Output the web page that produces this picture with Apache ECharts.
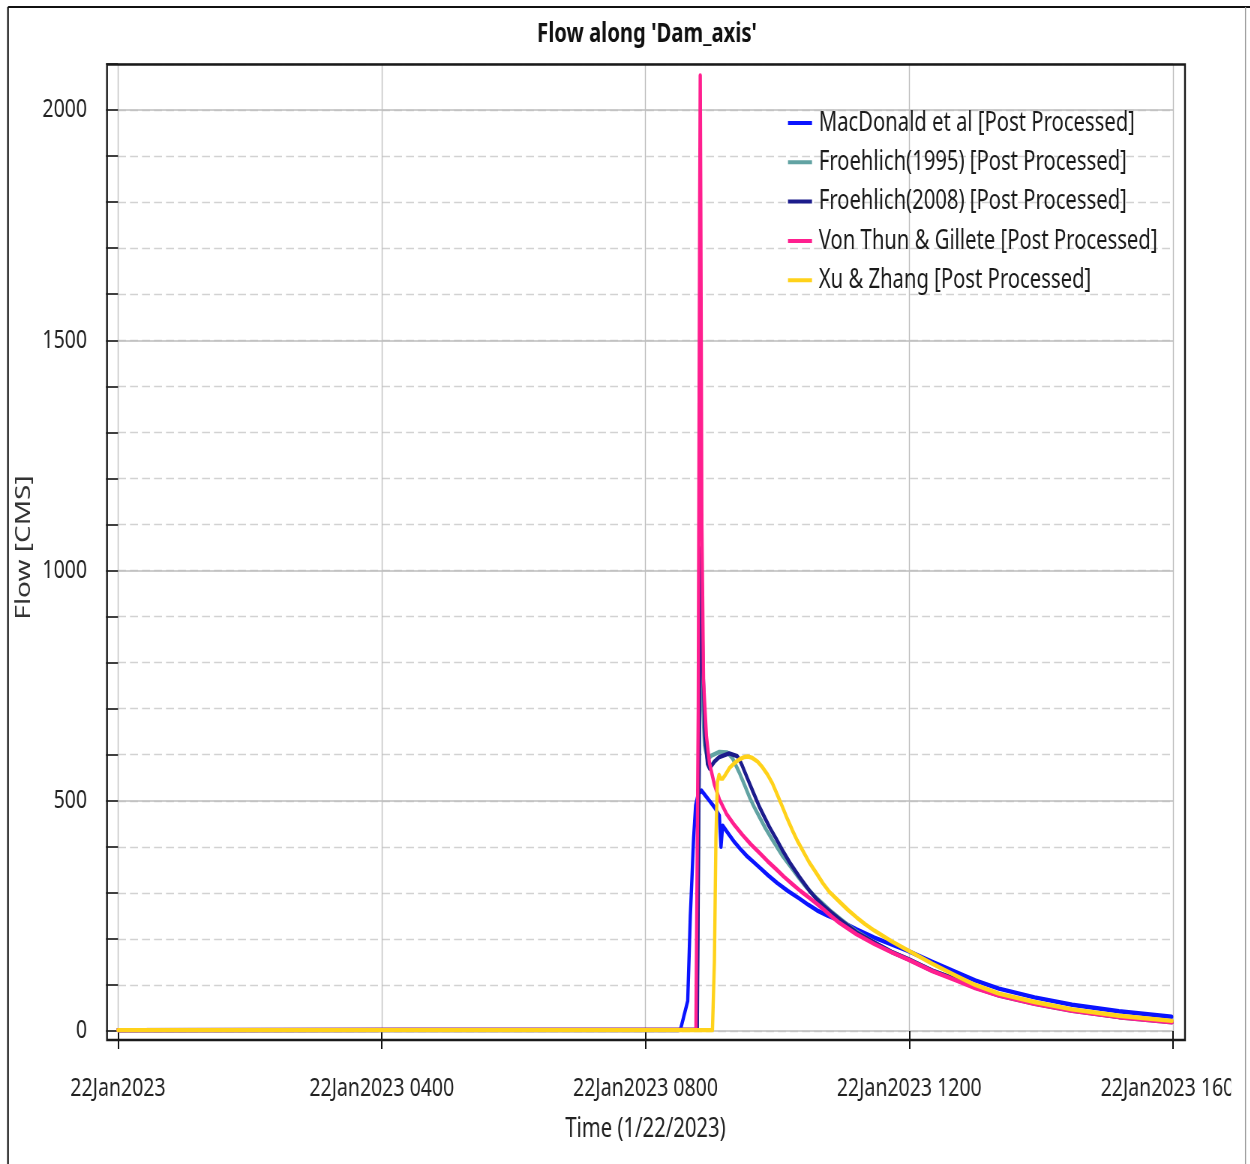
<!DOCTYPE html>
<html>
<head>
<meta charset="utf-8">
<script src="https://cdn.jsdelivr.net/npm/echarts@6/dist/echarts.min.js"></script>
<style>
html,body{margin:0;padding:0;background:#fff;overflow:hidden;}
#wrap{width:1250px;height:1164px;overflow:hidden;position:relative;}
#c{position:absolute;left:0;top:0;transform-origin:0 0;}
</style>
</head>
<body>
<div id="wrap"><div id="c"></div></div>
<script>
// ---- data (time in hours on 22Jan2023, flow in CMS) ----
const seriesNames = [
  'MacDonald et al [Post Processed]',
  'Froehlich(1995) [Post Processed]',
  'Froehlich(2008) [Post Processed]',
  'Von Thun & Gillete [Post Processed]',
  'Xu & Zhang [Post Processed]'
];
const xTickLabels = ['22Jan2023', '22Jan2023 0400', '22Jan2023 0800', '22Jan2023 1200', '22Jan2023 1600'];

const macTime = [0, 8.5, 8.53, 8.64, 8.68, 8.73, 8.76, 8.80, 8.85, 8.97, 9.05, 9.12, 9.145, 9.17, 9.26, 9.35, 9.44, 9.53, 9.63, 9.73, 9.86, 10.0, 10.16, 10.33, 10.47, 10.6, 10.77, 10.94, 11.2, 11.47, 11.73, 11.98, 12.35, 12.71, 13.0, 13.36, 13.9, 14.47, 15.18, 15.98];
const macFlow = [2, 2, 3, 65, 250, 420, 490, 515, 522, 500, 485, 468, 400, 446, 428, 410, 395, 381, 368, 355, 338, 321, 304, 288, 274, 262, 250, 240, 221, 203, 188, 174, 150, 128, 110, 92, 73, 57, 43, 31];

const fr95Time = [0, 8.78, 8.803, 8.826, 8.841, 8.864, 8.894, 8.94, 9.0, 9.12, 9.24, 9.32, 9.42, 9.5, 9.576, 9.65, 9.727, 9.82, 9.924, 10.07, 10.227, 10.33, 10.44, 10.57, 10.7, 10.82, 10.94, 11.2, 11.47, 11.73, 11.985, 12.35, 12.71, 13.0, 13.36, 13.9, 14.47, 15.18, 15.985];
const fr95Flow = [2, 3, 400, 800, 880, 720, 620, 590, 598, 606, 605, 592, 562, 535, 508, 486, 465, 440, 415, 382, 352, 332, 312, 292, 275, 259, 245, 216, 192, 172, 156, 131, 112, 94, 77, 59, 44, 30, 19];

const fr08Time = [0, 8.785, 8.81, 8.833, 8.848, 8.871, 8.902, 8.94, 8.97, 9.045, 9.12, 9.27, 9.39, 9.43, 9.47, 9.545, 9.62, 9.727, 9.8, 9.88, 9.98, 10.076, 10.2, 10.333, 10.485, 10.6, 10.7, 10.82, 10.94, 11.2, 11.47, 11.73, 11.985, 12.35, 12.71, 13.0, 13.36, 13.9, 14.47, 15.18, 15.985];
const fr08Flow = [2, 3, 500, 950, 1050, 800, 640, 580, 570, 585, 595, 603, 597, 588, 575, 549, 523, 487, 466, 443, 418, 393, 363, 335, 305, 286, 272, 257, 243, 214, 192, 172, 156, 131, 112, 95, 78, 60, 45, 31, 20];

const vtgTime = [0, 8.765, 8.80, 8.822, 8.830, 8.838, 8.855, 8.88, 8.924, 8.97, 9.045, 9.12, 9.227, 9.35, 9.47, 9.6, 9.727, 9.85, 9.985, 10.1, 10.227, 10.35, 10.485, 10.6, 10.7, 10.82, 10.94, 11.2, 11.47, 11.73, 11.985, 12.35, 12.71, 13.0, 13.36, 13.9, 14.47, 15.18, 15.985];
const vtgFlow = [2, 3, 700, 1800, 2075, 1800, 1100, 760, 640, 582, 535, 503, 472, 447, 426, 405, 387, 369, 351, 335, 319, 304, 289, 276, 264, 249, 235, 210, 189, 171, 155, 130, 110, 93, 77, 59, 44, 30, 19];

const xzTime = [0, 9.015, 9.045, 9.068, 9.09, 9.115, 9.14, 9.17, 9.21, 9.273, 9.35, 9.424, 9.5, 9.56, 9.62, 9.7, 9.773, 9.85, 9.924, 10.0, 10.076, 10.15, 10.227, 10.3, 10.38, 10.48, 10.59, 10.69, 10.79, 10.94, 11.07, 11.2, 11.33, 11.47, 11.73, 11.985, 12.35, 12.71, 13.0, 13.36, 13.9, 14.47, 15.18, 15.985];
const xzFlow = [2, 2, 150, 420, 540, 556, 548, 548, 556, 571, 582, 590, 595, 596, 593, 585, 573, 557, 538, 513, 487, 461, 436, 414, 393, 367, 343, 321, 302, 281, 263, 247, 232, 218, 195, 175, 146, 120, 100, 81, 63, 47, 33, 22];

// ---- layout / styling ----
const S = 0.75;                 // horizontal condensing of the whole drawing
const W = Math.round(1250 / S); // canvas width before condensing
const H = 1164;
const sx = v => v / S;
const FONT = 'Noto Sans';
const colors = ['#0a14ff', '#62a3a3', '#1c1c8c', '#ff1f8f', '#ffd21a'];

const el = document.getElementById('c');
el.style.width = W + 'px';
el.style.height = H + 'px';
el.style.transform = 'scaleX(' + S + ')';
const chart = echarts.init(el, null, {renderer: 'canvas', width: W, height: H});

const zip = (t, q) => t.map((v, i) => [v, q[i]]);
const allData = [
  zip(macTime, macFlow),
  zip(fr95Time, fr95Flow),
  zip(fr08Time, fr08Flow),
  zip(vtgTime, vtgFlow),
  zip(xzTime, xzFlow)
];

const option = {
  animation: false,
  backgroundColor: '#ffffff',
  color: colors,
  title: {
    text: "Flow along 'Dam_axis'",
    left: sx(647),
    top: 21,
    textAlign: 'center',
    padding: 0,
    textStyle: {fontFamily: FONT, fontSize: 27, fontWeight: 'bold', color: '#111'}
  },
  legend: {
    orient: 'vertical',
    left: sx(788),
    top: 108,
    padding: 0,
    icon: 'rect',
    itemWidth: sx(24),
    itemHeight: 4,
    itemGap: 9.3,
    data: seriesNames,
    textStyle: {fontFamily: FONT, fontSize: 27, color: '#1a1a1a', lineHeight: 30, padding: [0, 0, 0, 4]}
  },
  grid: {
    left: sx(118),
    right: W - sx(1173),
    top: 64,
    bottom: H - 1031,
    containLabel: false
  },
  xAxis: {
    type: 'value',
    min: 0,
    max: 16,
    interval: 4,
    offset: 9,
    name: 'Time (1/22/2023)',
    nameLocation: 'middle',
    nameGap: 76,
    nameTextStyle: {fontFamily: FONT, fontSize: 27, color: '#222'},
    axisLine: {show: false},
    axisTick: {show: true, inside: false, length: 18, lineStyle: {color: '#111', width: 2}},
    axisLabel: {
      fontFamily: FONT, fontSize: 26, color: '#222', margin: 36,
      formatter: v => xTickLabels[Math.round(v / 4)]
    },
    splitLine: {show: true, lineStyle: {color: '#bfbfbf', width: 1.4, type: 'solid'}}
  },
  yAxis: [
    {
      type: 'value',
      min: 0,
      max: 2100,
      interval: 100,
      offset: sx(11),
      name: 'Flow [CMS]',
      nameLocation: 'middle',
      nameGap: 75,
      nameTextStyle: {fontFamily: FONT, fontSize: 28, color: '#333'},
      axisLine: {show: false},
      axisTick: {show: true, inside: false, length: sx(12), lineStyle: {color: '#111', width: 1.6}},
      axisLabel: {
        fontFamily: FONT, fontSize: 26, color: '#222', margin: sx(20),
        formatter: v => (v % 500 === 0 ? String(v) : '')
      },
      splitLine: {show: true, lineStyle: {color: '#d2d2d2', width: 1.3, type: [sx(8), sx(4)]}}
    },
    {
      type: 'value',
      min: 0,
      max: 2100,
      interval: 500,
      position: 'left',
      axisLine: {show: false},
      axisTick: {show: false},
      axisLabel: {show: false},
      splitLine: {show: true, lineStyle: {color: '#bdbdbd', width: 1.6, type: 'solid'}}
    }
  ],
  series: seriesNames.map((name, i) => ({
    name: name,
    type: 'line',
    yAxisIndex: 0,
    data: allData[i],
    showSymbol: false,
    symbol: 'none',
    lineStyle: {width: 4.4, color: colors[i], join: 'round', cap: 'round'},
    itemStyle: {color: colors[i]},
    z: 3 + i
  })),
  graphic: [
    // plot frame
    {type: 'rect', z: 50, silent: true,
     shape: {x: sx(107), y: 64.5, width: sx(1185) - sx(107), height: 1040 - 64.5},
     style: {fill: null, stroke: '#1a1a1a', lineWidth: 2.4}},
    // mask clipping the last time label at the panel edge
    {type: 'rect', z: 60, silent: true,
     shape: {x: sx(1231), y: 1060, width: sx(1250) - sx(1231), height: 60},
     style: {fill: '#ffffff'}},
    // outer panel border
    {type: 'line', z: 60, silent: true,
     shape: {x1: sx(8), y1: 7, x2: W, y2: 7}, style: {stroke: '#111', lineWidth: 2.2}},
    {type: 'line', z: 60, silent: true,
     shape: {x1: sx(8), y1: 7, x2: sx(8), y2: H}, style: {stroke: '#111', lineWidth: 2.2}},
    {type: 'line', z: 60, silent: true,
     shape: {x1: sx(1245.5), y1: 7, x2: sx(1245.5), y2: H}, style: {stroke: '#9a9a9a', lineWidth: 1.4}}
  ]
};
chart.setOption(option);
</script>
</body>
</html>
